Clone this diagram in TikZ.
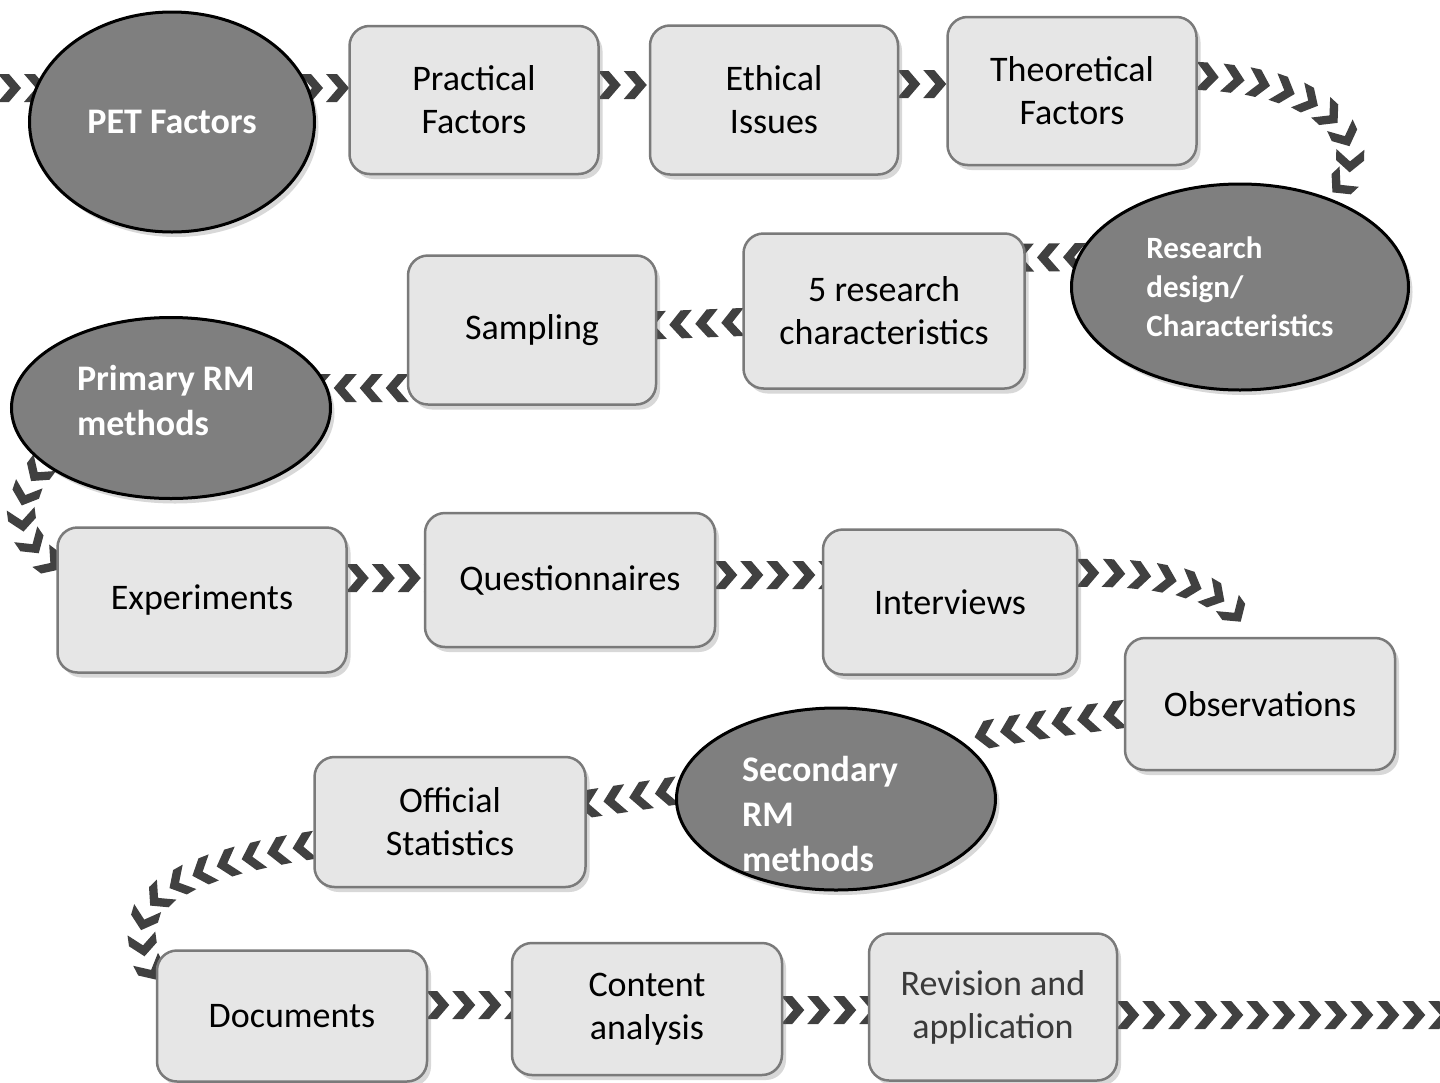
\documentclass[tikz,border=0pt]{standalone}
\usepackage{fontspec}
\setmainfont{Carlito}
\usetikzlibrary{shapes.geometric,shadows,decorations.markings,calc}
\pgfdeclarelayer{background}
\pgfsetlayers{background,main}
\definecolor{boxfill}{HTML}{E6E6E6}
\definecolor{boxline}{HTML}{7A7A7A}
\definecolor{ellfill}{HTML}{7F7F7F}
\definecolor{chevc}{HTML}{404040}
\definecolor{revtext}{HTML}{3A3A3A}
\begin{document}
\begin{tikzpicture}[x=1pt,y=-1pt,
  box/.style={rectangle, rounded corners=20pt, fill=boxfill, draw=boxline, line width=2.5pt,
    align=center, font=\fontsize{36}{43}\selectfont, inner sep=0pt,
    drop shadow={shadow xshift=4pt,shadow yshift=-5pt,opacity=.25,fill=black!60}},
  ell/.style={ellipse, fill=ellfill, draw=black, line width=3pt, text=white, align=left,
    font=\bfseries\fontsize{36}{45}\selectfont, inner sep=0pt,
    drop shadow={shadow xshift=4pt,shadow yshift=-5pt,opacity=.25,fill=black!60}},
  chev/.style={decoration={markings, mark=between positions 10pt and 1 step 26pt with
    {\fill[chevc] (-12,14)--(-1,14)--(11,0)--(-1,-14)--(-12,-14)--(0,0)--cycle;}},
    postaction={decorate}}]
\useasboundingbox (0,0) rectangle (1440,1082);

% nodes
\node[ell, minimum width=285pt, minimum height=220pt] (pet) at (172,122) {PET Factors};
\node[box, minimum width=249pt, minimum height=148pt] (prac) at (474,100) {Practical\\Factors};
\node[box, minimum width=248pt, minimum height=149pt] (eth) at (774,100) {Ethical\\Issues};
\node[box, minimum width=249pt, minimum height=148pt] (theo) at (1072,91) {Theoretical\\Factors};
\node[ell, minimum width=337pt, minimum height=206pt, font=\bfseries\fontsize{31}{39}\selectfont] (res) at (1240,287) {Research\\design/\\Characteristics};
\node[box, minimum width=281pt, minimum height=155pt] (five) at (884,311) {5 research\\characteristics};
\node[box, minimum width=248pt, minimum height=149pt] (samp) at (532,330) {Sampling};
\node[ell, minimum width=319pt, minimum height=181pt, text width=188pt, text height=27pt, text depth=63pt] (pri) at (171,408) {Primary\hspace{8pt}RM\\methods};
\node[box, minimum width=289pt, minimum height=145pt] (exp) at (202,600) {Experiments};
\node[box, minimum width=290pt, minimum height=134pt] (ques) at (570,580) {Questionnaires};
\node[box, minimum width=254pt, minimum height=145pt] (intv) at (950,602) {Interviews};
\node[box, minimum width=270pt, minimum height=132pt] (obs) at (1260,704) {Observations};
\node[ell, minimum width=319pt, minimum height=182pt, text width=188pt, text height=27pt, text depth=62pt] (sec) at (836,799) {Secondary\\RM\\methods};
\node[box, minimum width=271pt, minimum height=130pt] (off) at (450,822) {Official\\Statistics};
\node[box, minimum width=270pt, minimum height=131pt] (doc) at (292,1016) {Documents};
\node[box, minimum width=270pt, minimum height=132pt] (cont) at (647,1009) {Content\\analysis};
\node[box, minimum width=248pt, minimum height=147pt, text=revtext] (rev) at (993,1007) {Revision and\\application};

\coordinate (inL) at (-26,88);
\coordinate (outR) at (1470,1015);

\begin{pgfonlayer}{background}
\fill[white] (0,0) rectangle (1440,1082);
\path[chev] (inL) -- (pet.center |- inL);
\path[chev] ($(pet.east |- 0,88)+(-14,0)$) -- (prac.center |- 0,88);
\path[chev] (prac.east |- 0,85) -- (eth.center |- 0,85);
\path[chev] (eth.east |- 0,84) -- (theo.center |- 0,84);
\path[chev] (theo.east |- 0,76) .. controls (1290,80) and (1350,110) .. (1350,160)
   .. controls (1350,180) and (1338,192) .. (res.50);
\path[chev] ($(res.west |- 0,257)+(14,0)$) -- (five.center |- 0,259);
\path[chev] (five.west |- 0,322) -- (samp.center |- 0,330);
\path[chev] (samp.west |- 0,388) -- (pri.center |- 0,388);
\path[chev] (pri.204) .. controls (25,485) and (15,515) .. (27,535)
   .. controls (35,550) and (45,560) .. (exp.west |- 0,567);
\path[chev] (exp.east |- 0,578) -- (ques.center |- 0,578);
\path[chev] (ques.east |- 0,575) -- (intv.center |- 0,575);
\path[chev] (intv.east |- 0,573) .. controls (1170,571) and (1242,590) .. (obs.north -| 1242,0);
\path[chev] (obs.west |- 0,714) .. controls (1060,722) and (1000,730) .. (sec.25);
\path[chev] (sec.177) -- (off.east |- 0,804);
\path[chev] (off.west |- 0,845) .. controls (230,858) and (150,880) .. (143,925)
   .. controls (140,950) and (148,965) .. (doc.west |- 0,978);
\path[chev] (doc.east |- 0,1005) -- (cont.center |- 0,1005);
\path[chev] (cont.east |- 0,1010) -- (rev.center |- 0,1010);
\path[chev] (rev.east |- 0,1015) -- (outR);
\end{pgfonlayer}
\end{tikzpicture}
\end{document}
